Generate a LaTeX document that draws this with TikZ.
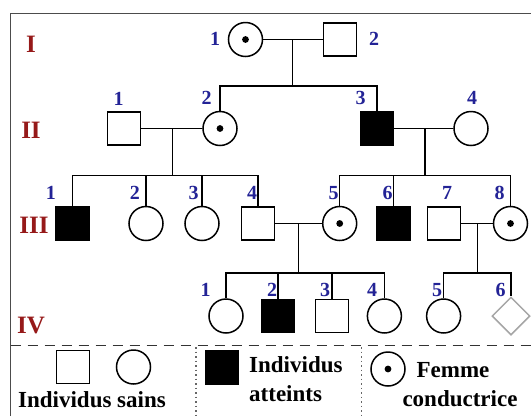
\documentclass[tikz,border=0pt]{standalone}
\usepackage{fontspec}
\setmainfont{Liberation Serif}
\usetikzlibrary{shapes.geometric}
\usepackage{xcolor}
\definecolor{numblue}{RGB}{35,35,150}
\definecolor{genred}{RGB}{150,25,25}
\tikzset{
  male/.style={draw, rectangle, minimum size=33pt, inner sep=0pt, line width=1.5pt},
  female/.style={draw, circle, minimum size=34pt, inner sep=0pt, line width=1.5pt},
  sick/.style={fill=black},
  carrier/.style={path picture={\fill (path picture bounding box.center) circle (3.4pt);}},
  unknown/.style={draw=black!35, diamond, aspect=1, minimum size=38pt, inner sep=0pt, line width=1.5pt},
  num/.style={font=\fontsize{20}{20}\selectfont\bfseries, text=numblue, inner sep=0pt},
  gen/.style={font=\fontsize{25}{25}\selectfont\bfseries, text=genred, inner sep=0pt},
  legtext/.style={font=\fontsize{23}{23}\selectfont\bfseries, inner sep=0pt},
  link/.style={line width=1.5pt}
}

\begin{document}
\begin{tikzpicture}[x=1pt, y=-1pt]
    \useasboundingbox (0,0) rectangle (531,416);
    % frame
    \draw [line width=1.6pt, black!70] (10.5,416) |- (531,13.5);

    % generation labels
    \node[gen] (gI) at (31,44) {I};
    \node[gen] (gII) at (31,130) {II};
    \node[gen] (gIII) at (34,225) {III};
    \node[gen] (gIV) at (31,325) {IV};

    % generation I
    \node[female, carrier] (I1) at (245.5,39.5) {};
    \node[male] (I2) at (340,39.5) {};
    \node[num] (nI1) at (215,39) {1};
    \node[num] (nI2) at (374,39) {2};

    % generation II
    \node[male] (II1) at (124,128.5) {};
    \node[female, carrier] (II2) at (220,128.5) {};
    \node[male, sick] (II3) at (377,128.5) {};
    \node[female] (II4) at (471,128.5) {};
    \node[num] (nII1) at (118.5,99) {1};
    \node[num] (nII2) at (206.5,98) {2};
    \node[num] (nII3) at (360.5,98) {3};
    \node[num] (nII4) at (472,98) {4};

    % generation III
    \node[male, sick] (III1) at (72.5,223.5) {};
    \node[female] (III2) at (146,223.5) {};
    \node[female] (III3) at (202,223.5) {};
    \node[male] (III4) at (258,223.5) {};
    \node[female, carrier] (III5) at (339.7,223.5) {};
    \node[male, sick] (III6) at (393.5,223.5) {};
    \node[male] (III7) at (444,223.5) {};
    \node[female, carrier] (III8) at (510.5,223.5) {};
    \foreach \i/\x in {1/50.8, 2/134.8, 3/193.7, 4/252, 5/333.6, 6/387.7, 7/447, 8/499.5} {
        \node[num] (nIII\i) at (\x,193) {\i};
    }

    % generation IV
    \node[female] (IV1) at (226,316) {};
    \node[male, sick] (IV2) at (278,316) {};
    \node[male] (IV3) at (332,316) {};
    \node[female] (IV4) at (384.4,316) {};
    \node[female] (IV5) at (443.6,316) {};
    \node[unknown] (IV6) at (511,316) {};
    \foreach \i/\x in {1/205.5, 2/272, 3/325, 4/372, 5/437, 6/500.5} {
        \node[num] (nIV\i) at (\x,289.7) {\i};
    }

    % couples and children
    \coordinate (mI) at (292.7,39.5);
    \coordinate (sI) at (292.7,86);
    \draw[link] (I1) -- (I2);
    \draw[link] (mI) -- (sI);
    \draw[link] (II2) |- (sI) -| (II3);

    \coordinate (mII) at (172.5,128.5);
    \coordinate (sII) at (172.5,175.5);
    \draw[link] (II1) -- (II2);
    \draw[link] (mII) -- (sII);
    \draw[link] (III1) |- (sII) -| (III4);
    \foreach \c in {III2,III3} {
        \draw[link] (\c) -- (\c |- sII);
    }

    \coordinate (mIIb) at (425,128.5);
    \coordinate (sIIb) at (425,175.5);
    \draw[link] (II3) -- (II4);
    \draw[link] (mIIb) -- (sIIb);
    \draw[link] (III5) |- (sIIb) -| (III8);
    \draw[link] (III6) -- (III6 |- sIIb);

    \coordinate (mIII) at (298.6,223.5);
    \coordinate (sIII) at (298.6,272.8);
    \draw[link] (III4) -- (III5);
    \draw[link] (mIII) -- (sIII);
    \draw[link] (IV1) |- (sIII) -| (IV4);
    \foreach \c in {IV2,IV3} {
        \draw[link] (\c) -- (\c |- sIII);
    }

    \coordinate (mIIIb) at (477.5,223.5);
    \coordinate (sIIIb) at (477.5,272.8);
    \draw[link] (III7) -- (III8);
    \draw[link] (mIIIb) -- (sIIIb);
    \draw[link] (IV5) |- (sIIIb) -| (IV6);

    % legend
    \draw [line width=1.5pt, dash pattern=on 10pt off 7pt, black!80] (10.5,345.5) -- (531,345.5);
    \draw [line width=1.4pt, dash pattern=on 1.5pt off 3pt, black!60] (196,347) -- (196,416);
    \draw [line width=1.4pt, dash pattern=on 1.5pt off 3pt, black!60] (361.7,347) -- (361.7,416);

    \node[male] (Lm) at (73,367) {};
    \node[female] (Lf) at (133.5,367) {};
    \node[legtext, anchor=base] (tsain) at (92,407) {Individus sains};

    \node[male, sick] (Ls) at (222,367.5) {};
    \node[legtext, anchor=base west] (tatt1) at (249,372) {Individus};
    \node[legtext, anchor=base west] (tatt2) at (249,401) {atteints};

    \node[female, carrier] (Lc) at (388,369) {};
    \node[legtext, anchor=base] (tcond1) at (453,377) {Femme};
    \node[legtext, anchor=base] (tcond2) at (460,406.5) {conductrice};
\end{tikzpicture}
\end{document}
